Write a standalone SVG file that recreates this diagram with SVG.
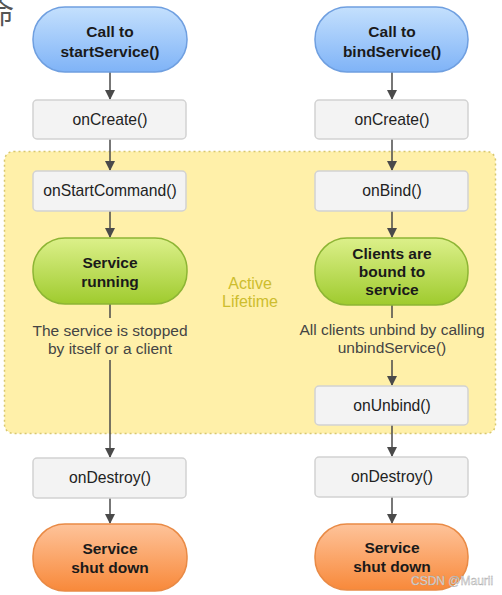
<svg xmlns="http://www.w3.org/2000/svg" width="502" height="595" viewBox="0 0 502 595">
<defs>
<linearGradient id="gBlue" x1="0" y1="0" x2="0" y2="1"><stop offset="0" stop-color="#c4e0fd"/><stop offset="1" stop-color="#7fb3f7"/></linearGradient>
<linearGradient id="gGreen" x1="0" y1="0" x2="0" y2="1"><stop offset="0" stop-color="#dcf08a"/><stop offset="1" stop-color="#9fcb2e"/></linearGradient>
<linearGradient id="gOrange" x1="0" y1="0" x2="0" y2="1"><stop offset="0" stop-color="#fec39a"/><stop offset="1" stop-color="#f8893a"/></linearGradient>
<marker id="arr" markerWidth="10" markerHeight="10" refX="9" refY="5" orient="auto" markerUnits="userSpaceOnUse"><path d="M0,0 L10,5 L0,10 z" fill="#4a4a4a"/></marker>
</defs>
<style>
.box{fill:#f3f3f3;stroke:#d2d2d2;stroke-width:1.5}
.blue{fill:url(#gBlue);stroke:#6f9fe0;stroke-width:1.5}
.green{fill:url(#gGreen);stroke:#8db534;stroke-width:1.5}
.orange{fill:url(#gOrange);stroke:#e98a45;stroke-width:1.5}
.bt{font-family:"Liberation Sans",Arial,sans-serif;font-weight:bold;font-size:15.5px;fill:#1a1a1a;text-anchor:middle}
.t{font-family:"Liberation Sans",Arial,sans-serif;font-size:15.7px;fill:#222;text-anchor:middle}
.note{font-family:"Liberation Sans",Arial,sans-serif;font-size:15.5px;fill:#444;text-anchor:middle}
.al{font-family:"Liberation Sans",Arial,sans-serif;font-size:16px;fill:#cdbd2e;text-anchor:middle}
.ln{stroke:#4a4a4a;stroke-width:1.5;fill:none}
</style>
<rect width="502" height="595" fill="#fff"/>
<text x="-14" y="24" font-family="'Noto Sans CJK SC',sans-serif" font-size="28" fill="#555">命</text>
<g id="active-lifetime">
<rect x="4.5" y="151.5" width="491" height="282" rx="9" fill="#fff0a9" stroke="#d8c76e" stroke-width="1.5" stroke-dasharray="2,3"/>
<text class="al" x="250" y="289">Active</text>
<text class="al" x="250" y="307">Lifetime</text>
</g>
<g id="connectors">
<line class="ln" x1="110" y1="72" x2="110" y2="99" marker-end="url(#arr)"/>
<line class="ln" x1="110" y1="139" x2="110" y2="170" marker-end="url(#arr)"/>
<line class="ln" x1="110" y1="211" x2="110" y2="237" marker-end="url(#arr)"/>
<line class="ln" x1="110" y1="304" x2="110" y2="318"/>
<line class="ln" x1="110" y1="360" x2="110" y2="457" marker-end="url(#arr)"/>
<line class="ln" x1="110" y1="498" x2="110" y2="523" marker-end="url(#arr)"/>
<line class="ln" x1="392" y1="72" x2="392" y2="99" marker-end="url(#arr)"/>
<line class="ln" x1="392" y1="139" x2="392" y2="170" marker-end="url(#arr)"/>
<line class="ln" x1="392" y1="211" x2="392" y2="237" marker-end="url(#arr)"/>
<line class="ln" x1="392" y1="305" x2="392" y2="318"/>
<line class="ln" x1="392" y1="360" x2="392" y2="385" marker-end="url(#arr)"/>
<line class="ln" x1="392" y1="425" x2="392" y2="456" marker-end="url(#arr)"/>
<line class="ln" x1="392" y1="497" x2="392" y2="523" marker-end="url(#arr)"/>
</g>
<g id="call-start">
<rect class="blue" x="33" y="7" width="154" height="65" rx="32"/>
<text class="bt" x="110" y="37">Call to</text>
<text class="bt" x="110" y="57">startService()</text>
</g>
<g id="oncreate-left">
<rect class="box" x="33" y="100" width="153" height="39" rx="4"/>
<text class="t" x="110" y="125">onCreate()</text>
</g>
<g id="onstartcommand">
<rect class="box" x="33" y="171" width="153" height="40" rx="4"/>
<text class="t" x="110" y="196">onStartCommand()</text>
</g>
<g id="service-running">
<rect class="green" x="33" y="238" width="154" height="66" rx="32"/>
<text class="bt" x="110" y="268">Service</text>
<text class="bt" x="110" y="287">running</text>
</g>
<g id="note-stopped">
<text class="note" x="110" y="336">The service is stopped</text>
<text class="note" x="110" y="354">by itself or a client</text>
</g>
<g id="ondestroy-left">
<rect class="box" x="33" y="458" width="153" height="40" rx="4"/>
<text class="t" x="110" y="483">onDestroy()</text>
</g>
<g id="shutdown-left">
<rect class="orange" x="33" y="524" width="154" height="67" rx="32"/>
<text class="bt" x="110" y="554">Service</text>
<text class="bt" x="110" y="573">shut down</text>
</g>
<g id="call-bind">
<rect class="blue" x="315" y="7" width="153" height="65" rx="32"/>
<text class="bt" x="392" y="37">Call to</text>
<text class="bt" x="392" y="57">bindService()</text>
</g>
<g id="oncreate-right">
<rect class="box" x="315" y="100" width="153" height="39" rx="4"/>
<text class="t" x="392" y="125">onCreate()</text>
</g>
<g id="onbind">
<rect class="box" x="315" y="171" width="153" height="40" rx="4"/>
<text class="t" x="392" y="196">onBind()</text>
</g>
<g id="clients-bound">
<rect class="green" x="315" y="238" width="153" height="67" rx="32"/>
<text class="bt" x="392" y="259">Clients are</text>
<text class="bt" x="392" y="277">bound to</text>
<text class="bt" x="392" y="295">service</text>
</g>
<g id="note-unbind">
<text class="note" x="392" y="335">All clients unbind by calling</text>
<text class="note" x="392" y="353">unbindService()</text>
</g>
<g id="onunbind">
<rect class="box" x="315" y="386" width="153" height="39" rx="4"/>
<text class="t" x="392" y="411">onUnbind()</text>
</g>
<g id="ondestroy-right">
<rect class="box" x="315" y="457" width="153" height="40" rx="4"/>
<text class="t" x="392" y="482">onDestroy()</text>
</g>
<g id="shutdown-right">
<rect class="orange" x="315" y="524" width="153" height="66" rx="32"/>
<text class="bt" x="392" y="553">Service</text>
<text class="bt" x="392" y="572">shut down</text>
</g>
<text x="411" y="585" font-family="'Liberation Sans',Arial,sans-serif" font-size="12" fill="#e8e8e8" stroke="#9a9a9a" stroke-width="0.3">CSDN @Maurii</text>
</svg>
